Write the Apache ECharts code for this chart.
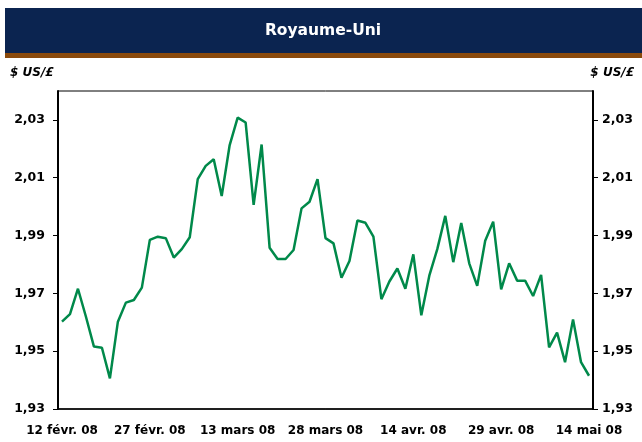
<!DOCTYPE html>
<html>
<head>
<meta charset="utf-8">
<script src="https://cdn.jsdelivr.net/npm/echarts@6/dist/echarts.min.js"></script>
<style>
html,body{margin:0;padding:0;background:#fff;}
#c{width:642px;height:442px;}
</style>
</head>
<body>
<div id="c"></div>
<script>
const title = 'Royaume-Uni';
const unitLabel = '$ US/£';
const categories = [
 '12 févr. 08','13 févr. 08','14 févr. 08','15 févr. 08','18 févr. 08','19 févr. 08','20 févr. 08','21 févr. 08','22 févr. 08','25 févr. 08','26 févr. 08',
 '27 févr. 08','28 févr. 08','29 févr. 08','3 mars 08','4 mars 08','5 mars 08','6 mars 08','7 mars 08','10 mars 08','11 mars 08','12 mars 08',
 '13 mars 08','14 mars 08','17 mars 08','18 mars 08','19 mars 08','20 mars 08','21 mars 08','24 mars 08','25 mars 08','26 mars 08','27 mars 08',
 '28 mars 08','31 mars 08','1 avr. 08','2 avr. 08','3 avr. 08','4 avr. 08','7 avr. 08','8 avr. 08','9 avr. 08','10 avr. 08','11 avr. 08',
 '14 avr. 08','15 avr. 08','16 avr. 08','17 avr. 08','18 avr. 08','21 avr. 08','22 avr. 08','23 avr. 08','24 avr. 08','25 avr. 08','28 avr. 08',
 '29 avr. 08','30 avr. 08','1 mai 08','2 mai 08','5 mai 08','6 mai 08','7 mai 08','8 mai 08','9 mai 08','12 mai 08','13 mai 08','14 mai 08'
];
const usdPerGbp = [
 1.9602,1.9628,1.9716,1.9619,1.9516,1.9512,1.9406,1.9602,1.9668,1.9677,1.9720,
 1.9885,1.9896,1.9891,1.9824,1.9853,1.9894,2.0095,2.0141,2.0164,2.0037,2.0213,
 2.0308,2.0291,2.0006,2.0215,1.9858,1.9819,1.9819,1.9850,1.9994,2.0017,2.0095,
 1.9891,1.9873,1.9754,1.9812,1.9952,1.9944,1.9896,1.9680,1.9741,1.9786,1.9716,
 1.9835,1.9624,1.9761,1.9853,1.9968,1.9808,1.9943,1.9804,1.9726,1.9882,1.9948,
 1.9714,1.9804,1.9744,1.9744,1.9691,1.9764,1.9513,1.9564,1.9462,1.9610,1.9462,1.9415
];
const yTicks = [1.93, 1.95, 1.97, 1.99, 2.01, 2.03];
const yMin = 1.93, yMax = 2.04, yStep = 0.02;

const fmt = v => Number(v).toFixed(2).replace('.', ',');
const FONT = '"DejaVu Sans", sans-serif';

function yAxisDef(pos, margin) {
  return {
    type: 'value', position: pos, min: yMin, max: yMax, interval: yStep,
    axisLine: { show: true, lineStyle: { color: '#000', width: 2 } },
    axisTick: { show: true, length: 5, inside: false, customValues: yTicks, lineStyle: { color: '#000', width: 1 } },
    axisLabel: { show: true, margin: margin, customValues: yTicks,
      formatter: v => fmt(v), color: '#000', fontFamily: FONT, fontWeight: 'bold', fontSize: 12.5 },
    splitLine: { show: false }
  };
}

const chart = echarts.init(document.getElementById('c'), null, { renderer: 'canvas' });
chart.setOption({
  animation: false,
  backgroundColor: '#fff',
  graphic: [
    { type: 'rect', shape: { x: 5, y: 8, width: 637, height: 45 }, style: { fill: '#0B2450' }, silent: true },
    { type: 'rect', shape: { x: 5, y: 53, width: 637, height: 5 }, style: { fill: '#8A4A0C' }, silent: true },
    { type: 'text', x: 323, y: 31, style: { text: title, fill: '#fff', font: 'bold 15.5px ' + FONT, textAlign: 'center', textVerticalAlign: 'middle' } },
    { type: 'text', x: 10, y: 73, style: { text: unitLabel, fill: '#000', font: 'italic bold 12px ' + FONT, textAlign: 'left', textVerticalAlign: 'middle' } },
    { type: 'text', x: 634, y: 73, style: { text: unitLabel, fill: '#000', font: 'italic bold 12px ' + FONT, textAlign: 'right', textVerticalAlign: 'middle' } }
  ],
  grid: { left: 58, right: 49, top: 91, bottom: 33, show: true, borderColor: '#000', borderWidth: 1, backgroundColor: 'transparent' },
  xAxis: {
    type: 'category', data: categories, boundaryGap: true,
    axisLine: { show: true, lineStyle: { color: '#000', width: 1.5 } },
    axisTick: { show: false },
    axisLabel: { interval: 10, margin: 16, color: '#000', fontFamily: FONT, fontWeight: 'bold', fontSize: 12, hideOverlap: false },
    splitLine: { show: false }
  },
  yAxis: [ yAxisDef('left', 13), yAxisDef('right', 9) ],
  series: [{
    type: 'line', data: usdPerGbp, yAxisIndex: 0, showSymbol: false, symbol: 'none',
    lineStyle: { color: '#00894A', width: 2.5 }, itemStyle: { color: '#00894A' }
  }]
});
</script>
</body>
</html>
